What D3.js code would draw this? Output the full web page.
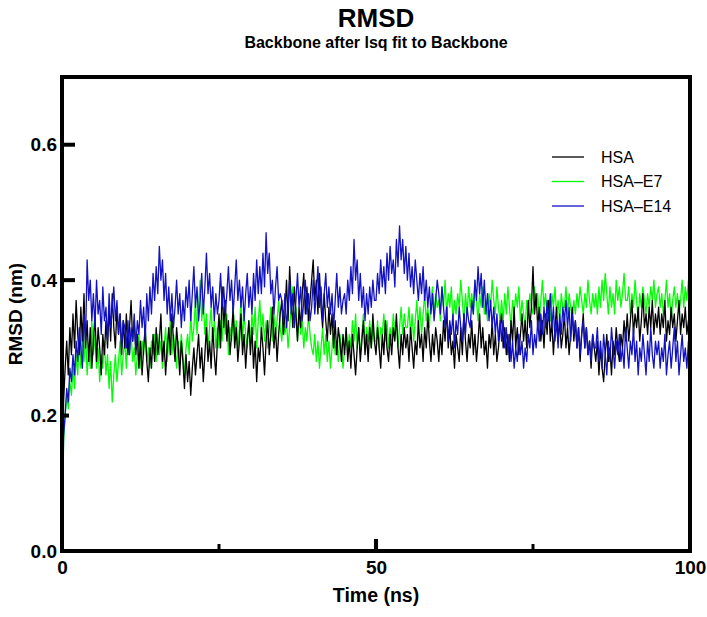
<!DOCTYPE html>
<html>
<head>
<meta charset="utf-8">
<script src="https://cdn.jsdelivr.net/npm/d3@7"></script>
<style>
  html, body { margin: 0; padding: 0; background: #fff; }
  svg { display: block; }
  text { font-family: "Liberation Sans", Arial, sans-serif; }
</style>
</head>
<body>
<svg id="chart" width="707" height="617"></svg>
<script>
// ---- data (RMSD in nm, sampled every 0.25 ns from 0 to 100 ns) ----
const seriesNames = ["HSA", "HSA\u2013E7", "HSA\u2013E14"];
const seriesColors = ["#000000", "#00ff00", "#1212c2"];
const xTickValues = [0, 50, 100];
const xMinorTicks = [25, 75];
const yTickValues = [0.0, 0.2, 0.4, 0.6];
const timeStep = 0.25;

const hsa = [
  0, .22, .27, .31, .26, .33, .29, .35, .30, .37, .32, .29, .36, .31, .38, .30, .34, .28, .33, .27,
  .31, .35, .28, .33, .30, .26, .32, .29, .34, .30, .36, .31, .38, .33, .30, .36, .32, .35, .29, .34,
  .30, .35, .29, .33, .37, .31, .34, .29, .32, .27, .31, .26, .30, .33, .28, .25, .30, .27, .32, .28,
  .33, .29, .31, .35, .28, .31, .26, .30, .33, .29, .35, .31, .28, .33, .30, .26, .31, .28, .24, .29,
  .25, .28, .23, .27, .30, .26, .29, .32, .27, .30, .25, .29, .33, .28, .31, .27, .33, .29, .26, .31,
  .35, .30, .39, .33, .37, .31, .34, .29, .32, .36, .30, .33, .28, .31, .35, .29, .32, .27, .31, .34,
  .29, .33, .27, .31, .25, .30, .28, .33, .30, .26, .31, .34, .29, .32, .36, .30, .33, .28, .32, .35,
  .37, .32, .35, .40, .34, .42, .37, .33, .39, .35, .31, .36, .33, .38, .41, .35, .39, .34, .37, .40,
  .43, .37, .40, .35, .41, .36, .33, .38, .34, .31, .36, .32, .35, .30, .34, .29, .33, .31, .28, .32,
  .29, .33, .28, .31, .27, .32, .29, .26, .30, .33, .28, .31, .34, .29, .32, .28, .33, .30, .35, .31,
  .29, .33, .30, .27, .32, .29, .34, .30, .28, .32, .29, .33, .31, .35, .30, .27, .32, .29, .33, .30,
  .32, .28, .33, .30, .27, .31, .29, .34, .30, .32, .28, .33, .30, .35, .31, .28, .32, .29, .33, .31,
  .28, .32, .29, .34, .31, .36, .30, .33, .29, .31, .27, .32, .30, .28, .33, .29, .35, .31, .28, .32,
  .30, .34, .29, .32, .28, .31, .35, .30, .33, .29, .31, .27, .32, .30, .34, .29, .32, .28, .30, .33,
  .35, .30, .33, .29, .32, .28, .34, .31, .36, .30, .33, .29, .32, .35, .31, .34, .30, .37, .33, .36,
  .42, .35, .38, .33, .36, .31, .34, .30, .35, .32, .37, .31, .34, .29, .33, .36, .31, .34, .30, .32,
  .35, .30, .33, .29, .32, .36, .31, .34, .30, .33, .28, .32, .35, .30, .33, .29, .31, .27, .32, .30,
  .28, .31, .26, .30, .27, .25, .29, .32, .28, .30, .26, .31, .29, .33, .30, .28, .32, .30, .34, .31,
  .35, .31, .34, .37, .32, .35, .33, .36, .31, .34, .38, .33, .35, .32, .36, .33, .37, .32, .35, .33,
  .36, .32, .35, .33, .37, .31, .34, .32, .36, .33, .35, .31, .34, .37, .32, .35, .33, .36, .32, .34,
  .35
];

const hsaE7 = [
  0, .16, .20, .23, .21, .25, .23, .27, .24, .29, .26, .31, .27, .33, .28, .32, .26, .30, .27, .34,
  .29, .32, .27, .30, .25, .29, .27, .31, .26, .29, .24, .28, .22, .26, .29, .25, .28, .31, .26, .29,
  .31, .27, .33, .29, .32, .28, .30, .26, .29, .32, .27, .31, .29, .33, .28, .30, .27, .31, .29, .32,
  .28, .32, .29, .31, .27, .30, .33, .28, .31, .34, .29, .32, .30, .27, .31, .28, .32, .29, .26, .30,
  .32, .29, .35, .31, .33, .37, .32, .36, .40, .34, .37, .32, .35, .30, .33, .36, .31, .34, .30, .33,
  .30, .34, .31, .36, .32, .35, .29, .33, .31, .36, .32, .34, .30, .33, .37, .31, .35, .32, .30, .34,
  .31, .35, .32, .36, .30, .34, .37, .32, .35, .31, .34, .30, .33, .36, .31, .35, .32, .34, .37, .33,
  .31, .35, .32, .34, .30, .33, .36, .39, .33, .36, .31, .35, .32, .34, .30, .33, .31, .35, .32, .30,
  .29, .32, .28, .31, .27, .30, .33, .29, .32, .28, .31, .27, .30, .33, .29, .31, .28, .32, .30, .27,
  .30, .33, .29, .32, .30, .34, .31, .35, .30, .33, .29, .32, .35, .30, .33, .31, .34, .30, .33, .31,
  .31, .34, .30, .33, .32, .35, .31, .34, .30, .33, .31, .35, .32, .34, .30, .33, .36, .32, .35, .33,
  .33, .36, .32, .35, .31, .34, .37, .33, .36, .32, .35, .38, .34, .36, .33, .37, .39, .35, .38, .36,
  .37, .34, .39, .36, .40, .35, .38, .36, .39, .34, .37, .35, .38, .36, .40, .37, .34, .38, .35, .39,
  .36, .38, .35, .40, .37, .34, .38, .36, .39, .35, .37, .34, .38, .36, .40, .37, .35, .39, .36, .34,
  .37, .34, .38, .35, .39, .36, .33, .37, .35, .38, .36, .39, .34, .37, .35, .33, .37, .35, .38, .36,
  .35, .39, .36, .38, .34, .37, .40, .36, .38, .35, .37, .34, .38, .36, .39, .35, .37, .34, .38, .36,
  .36, .39, .35, .38, .36, .34, .37, .35, .38, .36, .39, .37, .35, .38, .36, .40, .37, .35, .38, .36,
  .38, .35, .39, .36, .40, .37, .41, .38, .35, .39, .36, .38, .35, .40, .37, .39, .36, .38, .41, .37,
  .37, .39, .35, .38, .36, .40, .37, .34, .38, .36, .39, .37, .35, .38, .36, .39, .37, .40, .36, .38,
  .39, .36, .38, .35, .37, .40, .36, .38, .34, .37, .39, .36, .38, .35, .37, .40, .36, .39, .37, .40,
  .37
];

const hsaE14 = [
  0, .17, .20, .24, .22, .27, .25, .29, .26, .31, .28, .33, .30, .27, .35, .31, .43, .37, .40, .34,
  .38, .33, .40, .35, .37, .32, .39, .34, .36, .31, .38, .33, .36, .39, .34, .37, .32, .35, .30, .34,
  .33, .30, .34, .29, .33, .31, .35, .30, .34, .32, .37, .33, .36, .31, .38, .34, .39, .35, .41, .37,
  .42, .38, .45, .40, .43, .37, .41, .35, .39, .34, .38, .33, .36, .40, .35, .38, .33, .37, .34, .39,
  .36, .40, .34, .38, .42, .36, .39, .34, .37, .41, .35, .39, .44, .38, .41, .36, .39, .34, .38, .35,
  .37, .41, .36, .39, .35, .38, .42, .37, .40, .35, .39, .43, .37, .40, .36, .39, .34, .38, .41, .36,
  .39, .35, .41, .37, .43, .38, .42, .38, .44, .39, .47, .41, .44, .38, .40, .35, .39, .42, .37, .38,
  .37, .34, .38, .33, .36, .40, .35, .38, .33, .37, .41, .36, .39, .34, .37, .40, .35, .38, .34, .36,
  .40, .35, .38, .42, .36, .39, .34, .38, .41, .36, .39, .35, .38, .33, .37, .41, .36, .39, .35, .37,
  .38, .35, .40, .37, .42, .38, .46, .40, .43, .37, .41, .36, .39, .34, .38, .35, .39, .36, .40, .37,
  .37, .41, .38, .43, .39, .42, .38, .44, .40, .45, .41, .43, .39, .46, .42, .48, .43, .46, .41, .45,
  .40, .44, .39, .42, .38, .43, .40, .37, .41, .38, .42, .37, .40, .36, .39, .35, .38, .34, .37, .40,
  .38, .35, .39, .36, .33, .36, .31, .34, .32, .35, .30, .34, .32, .36, .33, .31, .35, .32, .36, .34,
  .33, .37, .35, .40, .37, .42, .38, .41, .36, .40, .35, .38, .34, .37, .33, .36, .32, .35, .31, .34,
  .31, .34, .30, .33, .29, .32, .28, .31, .27, .30, .28, .32, .29, .31, .27, .30, .28, .32, .30, .34,
  .29, .32, .30, .34, .31, .35, .32, .36, .33, .37, .34, .38, .33, .36, .31, .34, .30, .35, .32, .36,
  .34, .37, .33, .36, .31, .35, .32, .34, .30, .33, .29, .32, .34, .30, .33, .29, .31, .28, .32, .30,
  .30, .33, .28, .31, .27, .32, .29, .26, .31, .28, .33, .30, .27, .31, .29, .32, .28, .30, .27, .33,
  .30, .27, .31, .29, .33, .28, .31, .26, .30, .28, .32, .29, .26, .31, .28, .33, .29, .27, .31, .29,
  .31, .27, .30, .28, .32, .26, .29, .31, .27, .30, .33, .28, .31, .26, .29, .32, .28, .30, .27, .31,
  .29
];

const seriesValues = [hsa, hsaE7, hsaE14];

// ---- layout ----
const svg = d3.select("#chart");
const plot = { left: 62, right: 690, top: 77, bottom: 551 };

const x = d3.scaleLinear().domain([0, 100]).range([plot.left, plot.right]);
const y = d3.scaleLinear().domain([0, 0.7]).range([plot.bottom, plot.top]);

svg.append("defs").append("clipPath").attr("id", "clip")
  .append("rect")
  .attr("x", plot.left).attr("y", plot.top)
  .attr("width", plot.right - plot.left).attr("height", plot.bottom - plot.top);

// series lines
const line = d3.line()
  .x((d, i) => x(i * timeStep))
  .y(d => y(d));

const drawOrder = [1, 0, 2];
const linesG = svg.append("g").attr("clip-path", "url(#clip)");
drawOrder.forEach(k => {
  linesG.append("path")
    .datum(seriesValues[k])
    .attr("fill", "none")
    .attr("stroke", seriesColors[k])
    .attr("stroke-width", 1.3)
    .attr("stroke-linejoin", "round")
    .attr("d", line);
});

// frame
svg.append("rect")
  .attr("x", plot.left).attr("y", plot.top)
  .attr("width", plot.right - plot.left).attr("height", plot.bottom - plot.top)
  .attr("fill", "none").attr("stroke", "#000").attr("stroke-width", 4);

// x axis
const xAxis = d3.axisBottom(x).tickValues(xTickValues).tickSize(0).tickPadding(10)
  .tickFormat(d3.format("d"));
const gx = svg.append("g").attr("transform", `translate(0,${plot.bottom})`).call(xAxis);
gx.select(".domain").remove();
gx.selectAll("text").attr("font-size", 19).attr("font-weight", "bold")
  .attr("font-family", "'Liberation Sans', Arial, sans-serif").attr("fill", "#000");

svg.append("g").selectAll("line").data([50]).join("line")
  .attr("x1", d => x(d)).attr("x2", d => x(d))
  .attr("y1", plot.bottom).attr("y2", plot.bottom - 12)
  .attr("stroke", "#000").attr("stroke-width", 4);
svg.append("g").selectAll("line").data(xMinorTicks).join("line")
  .attr("x1", d => x(d)).attr("x2", d => x(d))
  .attr("y1", plot.bottom).attr("y2", plot.bottom - 7)
  .attr("stroke", "#000").attr("stroke-width", 3);

// y axis
const yAxis = d3.axisLeft(y).tickValues(yTickValues).tickSize(0).tickPadding(5)
  .tickFormat(d3.format(".1f"));
const gy = svg.append("g").attr("transform", `translate(${plot.left},0)`).call(yAxis);
gy.select(".domain").remove();
gy.selectAll("text").attr("font-size", 19).attr("font-weight", "bold")
  .attr("font-family", "'Liberation Sans', Arial, sans-serif").attr("fill", "#000");

svg.append("g").selectAll("line").data([0.2, 0.4, 0.6]).join("line")
  .attr("x1", plot.left).attr("x2", d => plot.left + (d === 0.2 ? 7 : 13))
  .attr("y1", d => y(d)).attr("y2", d => y(d))
  .attr("stroke", "#000").attr("stroke-width", 4);

// axis titles
svg.append("text")
  .attr("x", (plot.left + plot.right) / 2).attr("y", 602)
  .attr("text-anchor", "middle").attr("font-size", 19.5).attr("font-weight", "bold")
  .text("Time (ns)");
svg.append("text")
  .attr("transform", `translate(22,${(plot.top + plot.bottom) / 2}) rotate(-90)`)
  .attr("text-anchor", "middle").attr("font-size", 19).attr("font-weight", "bold")
  .text("RMSD (nm)");

// titles
svg.append("text")
  .attr("x", (plot.left + plot.right) / 2).attr("y", 27)
  .attr("text-anchor", "middle").attr("font-size", 26).attr("font-weight", "bold")
  .text("RMSD");
svg.append("text")
  .attr("x", (plot.left + plot.right) / 2).attr("y", 48)
  .attr("text-anchor", "middle").attr("font-size", 16).attr("font-weight", "bold")
  .text("Backbone after lsq fit to Backbone");

// legend
const legend = svg.append("g");
seriesNames.forEach((name, i) => {
  const ly = 157 + i * 24.5;
  legend.append("line")
    .attr("x1", 552).attr("x2", 584).attr("y1", ly).attr("y2", ly)
    .attr("stroke", seriesColors[i]).attr("stroke-width", 1.3);
  legend.append("text")
    .attr("x", 601).attr("y", ly).attr("dy", "0.35em")
    .attr("font-size", 16)
    .text(name);
});
</script>
</body>
</html>
